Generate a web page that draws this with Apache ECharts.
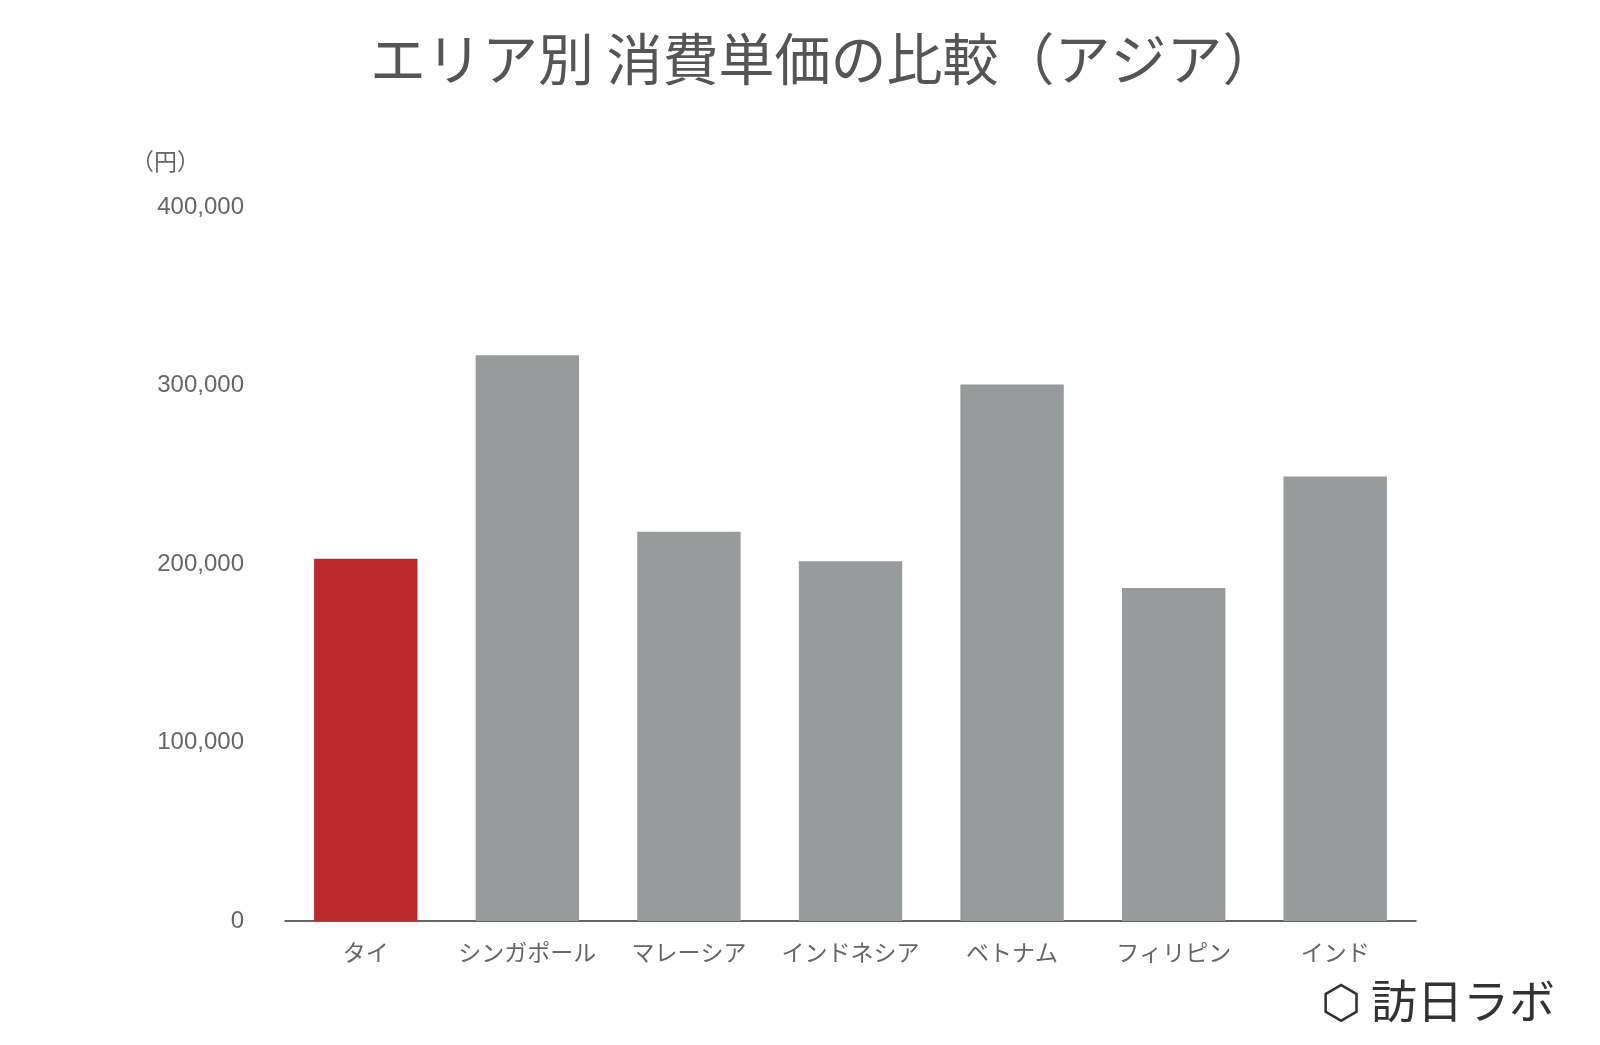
<!DOCTYPE html>
<html>
<head>
<meta charset="utf-8">
<script src="https://cdn.jsdelivr.net/npm/echarts@6/dist/echarts.min.js"></script>
<style>
html,body{margin:0;padding:0;background:#fff;}
#main{width:1600px;height:1045px;}
</style>
</head>
<body>
<div id="main"></div>
<script>
var areas = ['タイ','シンガポール','マレーシア','インドネシア','ベトナム','フィリピン','インド'];
var prices = [203000,317000,218000,201500,300500,186500,249000];
var barColors = ['#bd2a2e','#989b9b','#989b9b','#989b9b','#989b9b','#989b9b','#989b9b'];

var font = '"Noto Sans CJK JP", "Noto Sans", sans-serif';
var numFont = '"Liberation Sans", Arial, sans-serif';
var myChart = echarts.init(document.getElementById('main'));

var seriesData = [];
for(var i = 0;i<prices.length;i++){
    seriesData.push({value:prices[i], itemStyle:{color:barColors[i]}});
}

var option = {
    animation:false,
    textStyle:{fontFamily:font},
    title:{
        text:'エリア別 消費単価の比較（アジア）',
        left:365,
        top:26,
        textStyle:{fontSize:56,fontWeight:'normal',color:'#555555',fontFamily:font}
    },
    grid:{left:285,right:184,top:207,bottom:124},
    xAxis:{
        type:'category',
        data:areas,
        axisLine:{lineStyle:{color:'#333333',width:1.5}},
        axisTick:{show:false},
        axisLabel:{color:'#666666',fontSize:23,margin:20,interval:0,fontFamily:font}
    },
    yAxis:{
        type:'value',
        min:0,max:400000,interval:100000,
        name:'（円）',
        nameLocation:'end',
        nameGap:34,
        nameTextStyle:{color:'#666666',fontSize:23,align:'right',padding:[0,85,0,0]},
        splitLine:{show:false},
        axisLine:{show:false},
        axisTick:{show:false},
        axisLabel:{color:'#666666',fontSize:24,margin:41,fontFamily:numFont,
            formatter:function(v){return v.toLocaleString('en-US');}}
    },
    graphic:[{
        type:'text',right:45,top:978,
        style:{text:'⬡ 訪日ラボ',fontSize:46,fill:'#333333',fontFamily:font}
    }],
    series:[{
        type:'bar',
        data:seriesData,
        barWidth:'64%'
    }]
};
myChart.setOption(option);
</script>
</body>
</html>
